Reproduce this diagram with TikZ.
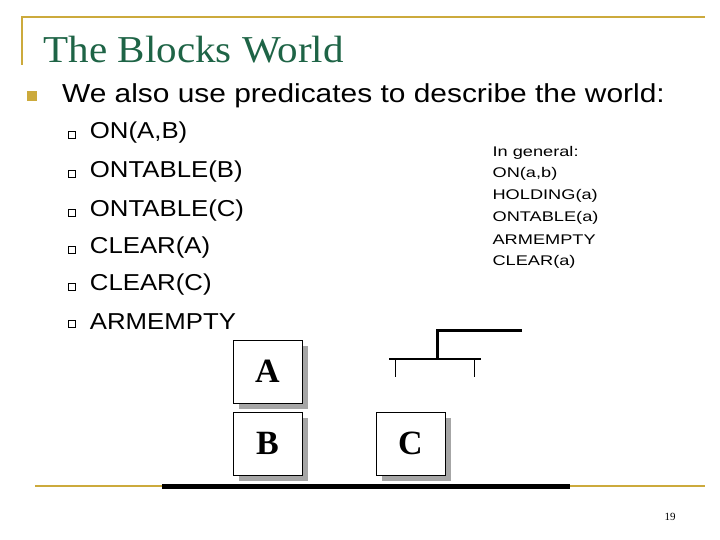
\documentclass[tikz,border=0pt]{standalone}
\usepackage{fontspec}
\setmainfont{Liberation Sans}
\newfontfamily\tnr{Liberation Serif}
\definecolor{gold}{RGB}{204,170,60}
\definecolor{ttl}{RGB}{30,100,70}
\begin{document}
\begin{tikzpicture}[x=1pt,y=-1pt,
  blk/.style={draw=black,fill=white,minimum width=69pt,minimum height=63pt,inner sep=0pt,font=\tnr\fontsize{34}{34}\selectfont\bfseries},
  shd/.style={fill=black!35,minimum width=69pt,minimum height=63pt,inner sep=0pt},
  sub/.style={anchor=west,xscale=1.12,font=\fontsize{23}{23}\selectfont},
  gen/.style={anchor=west,xscale=1.3,font=\fontsize{14}{14}\selectfont},
  sq/.style={draw=black,line width=0.6pt,minimum size=7pt,inner sep=0pt}]
\useasboundingbox (0,0) rectangle (720,540);
\draw[gold,line width=1.5pt] (22,65) -- (22,17) -- (705,17);
\draw[gold,line width=1.5pt] (35,486) -- (705,486);
\draw[line width=5pt] (162,486) -- (570,486);
\node[anchor=west,text=ttl,xscale=1.08,font=\tnr\fontsize{38}{38}\selectfont] (title) at (40,50) {The Blocks World};
\node[fill=gold,minimum size=10pt,inner sep=0pt] (b0) at (32,96) {};
\node[anchor=west,xscale=1.15,font=\fontsize{26}{26}\selectfont] (l0) at (58,96) {We also use predicates to describe the world:};
\foreach \t/\y [count=\i] in {{ON(A,B)}/133,{ONTABLE(B)}/172,{ONTABLE(C)}/211,{CLEAR(A)}/248,{CLEAR(C)}/285,{ARMEMPTY}/322}{
  \node[sq] (s\i) at (72,\y+2) {};
  \node[sub] (t\i) at (86,\y) {\t};
}
\foreach \t/\y [count=\i] in {{In general:}/153,{ON(a,b)}/174,{HOLDING(a)}/196,{ONTABLE(a)}/218,{ARMEMPTY}/240,{CLEAR(a)}/262}{
  \node[gen] (g\i) at (488,\y) {\t};
}
\node[shd] (As) at (273.5,377.5) {};
\node[blk] (A) at (267.5,371.5) {A};
\node[shd] (Bs) at (273.5,449.5) {};
\node[blk] (B) at (267.5,443.5) {B};
\node[shd] (Cs) at (416.5,449.5) {};
\node[blk] (C) at (410.5,443.5) {C};
\draw[line width=3pt] (522,330) -- (437,330) -- (437,359);
\draw[line width=2.5pt] (389,359) -- (481,359);
\draw[line width=0.7pt] (395,359) -- (395,377) (474,359) -- (474,377);
\node[font=\tnr\fontsize{11}{11}\selectfont] (pg) at (670,517) {19};
\end{tikzpicture}
\end{document}
